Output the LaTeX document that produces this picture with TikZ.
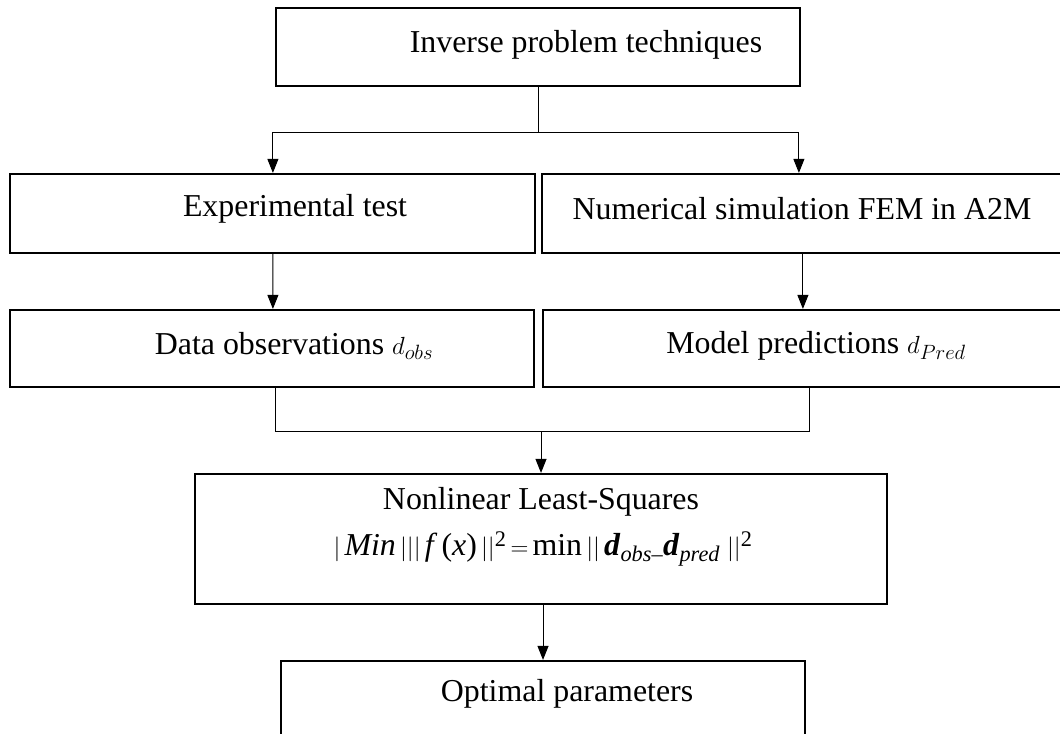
\documentclass[tikz,border=0pt]{standalone}
\usepackage{fontspec}
\setmainfont{Liberation Serif}
\usetikzlibrary{arrows.meta,calc}
\tikzset{
  box/.style={draw, line width=2.2bp, rectangle, inner sep=0pt},
  lbl/.style={font=\fontsize{32}{36}\selectfont, inner sep=0pt, anchor=center},
  conn/.style={line width=1bp},
  arr/.style={line width=1bp, -{Triangle[width=11bp,length=14bp]}}
}
\begin{document}
\begin{tikzpicture}[x=1bp,y=-1bp]
\clip (0,0) rectangle (1060,734);
\fill[white] (0,0) rectangle (1060,734);
% boxes
\node[box, minimum width=524bp, minimum height=78bp] (top) at (538,47) {};
\node[box, minimum width=525bp, minimum height=79bp] (exp) at (272.5,213.5) {};
\node[box, minimum width=528bp, minimum height=79bp] (num) at (806,213.5) {};
\node[box, minimum width=524bp, minimum height=77bp] (data) at (272,348.5) {};
\node[box, minimum width=527bp, minimum height=77bp] (model) at (806.5,348.5) {};
\node[box, minimum width=692bp, minimum height=130bp] (nls) at (541,539) {};
\node[box, minimum width=524bp, minimum height=90bp] (opt) at (543,706) {};
% texts
\node[lbl] (ttop) at (586,45) {Inverse problem techniques};
\node[lbl] (texp) at (295,209) {Experimental test};
\node[lbl] (tnum) at (802,209) {Numerical simulation FEM in A2M};
\node[lbl] (tdata) at (294,346) {Data observations $d_{obs}$};
\node[lbl] (tmodel) at (816,346) {Model predictions $d_{Pred}$};
\node[lbl] (tnls) at (541,502) {Nonlinear Least-Squares};
\node[lbl] (tform) at (543,549) {$|\,$\textit{Min}$\,|||\,$\textit{f}$\,$(\textit{x})$\,||$\textsuperscript{2}$\,=\,$min$\,||\,$\textbf{\textit{d}}\textsubscript{\textit{obs}–}\textbf{\textit{d}}\textsubscript{\textit{pred}}$\;||$\textsuperscript{2}};
\node[lbl] (topt) at (567,694) {Optimal parameters};
% connectors
\coordinate (j1) at (538,133);
\coordinate (j2) at (541,431);
\draw[conn] (top.south) -- (j1);
\draw[arr] (j1) -| ($(exp.north west)+(264,0)$);
\draw[arr] (j1) -| ($(num.north west)+(258,0)$);
\draw[arr] ($(exp.south west)+(264,0)$) -- ($(data.north west)+(264,0)$);
\draw[arr] ($(num.south west)+(262,0)$) -- ($(model.north west)+(261,0)$);
\draw[conn] ($(data.south west)+(267,0)$) |- (j2);
\draw[conn] ($(model.south west)+(268,0)$) |- (j2);
\draw[arr] (j2) -- (nls.north);
\draw[arr] ($(nls.south)+(2,0)$) -- (opt.north);
\end{tikzpicture}
\end{document}
